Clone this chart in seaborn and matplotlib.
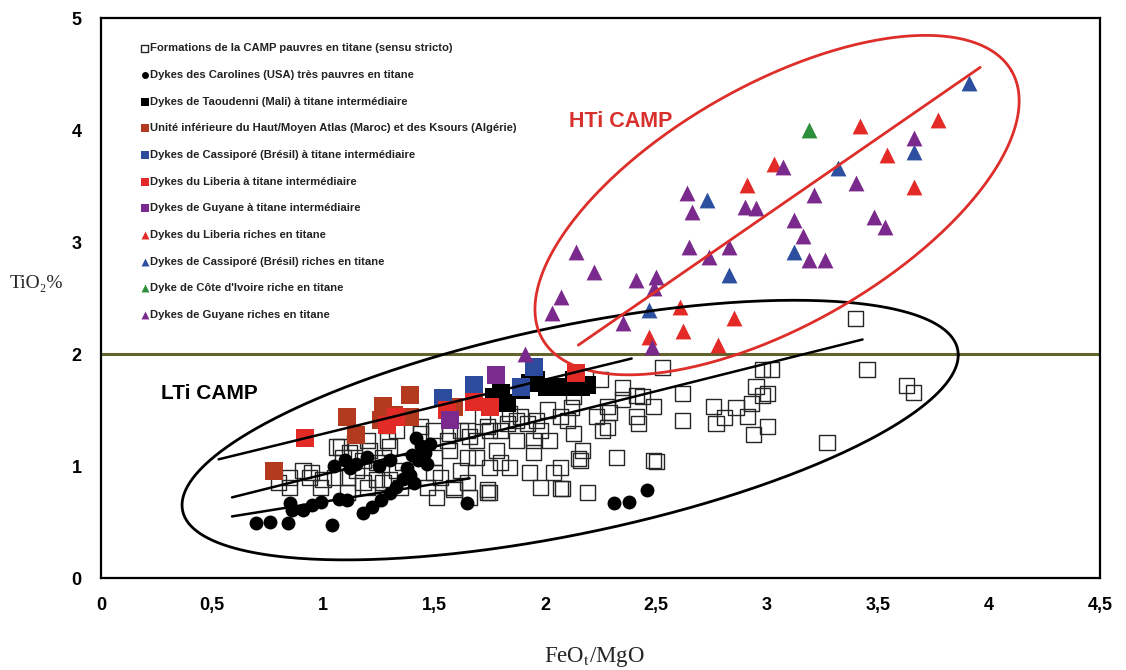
import numpy as np
import pandas as pd
import matplotlib
matplotlib.use("Agg")
import matplotlib.pyplot as plt
import seaborn as sns

# ---- data (FeOt/MgO, TiO2 %) ----
# Formations de la CAMP pauvres en titane (hollow squares)
camp_x = [0.80, 0.85, 0.85, 0.91, 0.94, 0.95, 0.99, 1.00, 1.05, 1.08, 1.09, 1.12, 1.15, 1.18, 1.21,
          1.24, 1.27, 1.30, 1.33, 1.36, 1.30, 1.24, 1.18, 1.11, 1.11, 1.20, 1.27, 1.35, 1.47, 1.53,
          1.59, 1.66, 1.74, 1.51, 1.06, 1.14, 1.20, 1.29, 1.33, 1.44, 1.50, 1.56, 1.62, 1.66, 1.75,
          1.83, 1.89,
          2.25, 2.13, 2.23, 2.26, 2.17, 2.16, 2.07, 2.04, 2.08, 2.19, 1.98, 1.93, 1.95, 1.84, 1.78,
          1.75, 1.74, 1.65, 1.59, 1.50, 1.65, 1.69, 1.80, 1.87, 1.96, 2.01, 2.07, 2.10, 2.13, 2.02,
          1.95, 1.87, 1.74, 1.65, 1.57, 1.44, 1.57, 1.50, 1.69, 1.62, 1.72, 1.84, 1.92, 1.98, 2.28,
          2.53, 2.98, 3.02, 3.45, 3.63, 3.66, 2.95, 2.98, 3.00, 2.62, 2.49, 2.41, 2.35, 2.44, 2.62,
          2.76, 2.77, 2.81, 2.86, 2.91, 2.93, 3.00, 2.94, 3.27, 2.32, 2.49, 2.50, 2.42, 2.29, 2.28,
          2.15, 1.80, 2.12, 2.41, 2.35, 3.40, 2.07, 1.75]
camp_y = [0.85, 0.81, 0.90, 0.96, 0.90, 0.94, 0.81, 0.88, 0.90, 1.17, 1.08, 1.12, 0.96, 1.05, 1.14,
          1.03, 1.08, 1.17, 0.96, 1.03, 0.88, 0.88, 0.85, 0.90, 0.76, 0.81, 0.85, 0.81, 0.81, 0.90,
          0.79, 0.72, 0.76, 0.72, 1.17, 1.21, 1.23, 1.23, 1.32, 1.35, 1.32, 1.23, 1.32, 1.26, 1.32,
          1.38, 1.44,
          1.77, 1.62, 1.44, 1.32, 1.14, 1.05, 0.99, 0.94, 0.80, 0.76, 0.81, 0.94, 1.12, 0.99, 1.14,
          0.99, 0.79, 0.85, 0.81, 0.94, 1.08, 1.23, 1.32, 1.41, 1.41, 1.50, 1.44, 1.41, 1.29, 1.23,
          1.23, 1.23, 1.35, 1.32, 1.29, 1.29, 1.14, 1.08, 1.08, 0.96, 1.44, 1.47, 1.38, 1.32, 1.53,
          1.88, 1.86, 1.86, 1.86, 1.72, 1.66, 1.71, 1.63, 1.65, 1.65, 1.53, 1.63, 1.70, 1.62, 1.41,
          1.53, 1.38, 1.43, 1.52, 1.44, 1.56, 1.35, 1.28, 1.21, 1.08, 1.05, 1.04, 1.38, 1.48, 1.34,
          1.07, 1.03, 1.52, 1.44, 1.59, 2.32, 0.80, 0.76]

# Dykes des Carolines (USA)
carol_x = [0.70, 0.76, 0.84, 0.86, 0.85, 0.91, 0.95, 0.99, 1.04, 1.07, 1.11, 1.18, 1.22, 1.26, 1.30,
           1.33, 1.36, 1.65, 2.31, 2.38, 2.46, 1.05, 1.10, 1.12, 1.15, 1.20, 1.25, 1.30, 1.38, 1.40,
           1.42, 1.43, 1.44, 1.46, 1.47, 1.48, 1.39, 1.41]
carol_y = [0.49, 0.50, 0.49, 0.61, 0.67, 0.61, 0.65, 0.68, 0.47, 0.71, 0.70, 0.58, 0.63, 0.70, 0.76,
           0.81, 0.88, 0.67, 0.67, 0.68, 0.79, 1.00, 1.05, 0.98, 1.02, 1.08, 1.00, 1.05, 0.98, 1.10,
           1.25, 1.05, 1.18, 1.12, 1.02, 1.20, 0.92, 0.85]

# Dykes de Taoudenni (Mali)
taou_x = [1.77, 1.80, 1.83, 1.89, 1.93, 1.96, 2.01, 2.05, 2.10, 2.13, 2.16, 2.19]
taou_y = [1.62, 1.65, 1.56, 1.68, 1.74, 1.77, 1.71, 1.71, 1.71, 1.77, 1.71, 1.72]

# Unite inferieure du Haut/Moyen Atlas et des Ksours
atlas_x = [0.78, 1.11, 1.15, 1.27, 1.39, 1.32, 1.39, 1.26, 1.59]
atlas_y = [0.96, 1.44, 1.28, 1.54, 1.63, 1.46, 1.44, 1.41, 1.53]

# Intermediate-Ti squares
cass_sq_x = [1.54, 1.68, 1.89, 1.95]
cass_sq_y = [1.61, 1.72, 1.71, 1.88]
lib_sq_x = [0.92, 1.33, 1.29, 1.56, 1.68, 1.75, 2.14]
lib_sq_y = [1.25, 1.44, 1.37, 1.50, 1.57, 1.53, 1.83]
guy_sq_x = [1.57, 1.78]
guy_sq_y = [1.41, 1.81]

# High-Ti triangles
lib_tr_x = [3.77, 3.42, 3.54, 3.03, 3.66, 2.91, 2.61, 2.62, 2.85, 2.47, 2.78]
lib_tr_y = [4.09, 4.04, 3.78, 3.70, 3.49, 3.51, 2.42, 2.21, 2.32, 2.15, 2.08]
cass_tr_x = [3.91, 3.66, 3.32, 2.73, 3.12, 2.83, 2.47]
cass_tr_y = [4.42, 3.80, 3.66, 3.38, 2.91, 2.71, 2.39]
civ_tr_x = [3.19]
civ_tr_y = [4.00]
guy_tr_x = [3.66, 3.07, 3.40, 3.21, 2.64, 2.66, 2.90, 2.95, 3.12, 3.48, 3.53, 3.16, 2.65, 2.74,
            2.83, 3.19, 3.26, 2.14, 2.22, 2.41, 2.50, 2.49, 2.07, 2.03, 2.35, 2.48, 1.91]
guy_tr_y = [3.93, 3.67, 3.53, 3.42, 3.44, 3.27, 3.31, 3.30, 3.20, 3.22, 3.13, 3.05, 2.96, 2.87,
            2.96, 2.84, 2.84, 2.91, 2.73, 2.66, 2.69, 2.59, 2.51, 2.37, 2.28, 2.06, 2.00]

x_ticks = [0, 0.5, 1, 1.5, 2, 2.5, 3, 3.5, 4, 4.5]
x_tick_labels = ["0", "0,5", "1", "1,5", "2", "2,5", "3", "3,5", "4", "4,5"]
y_ticks = [0, 1, 2, 3, 4, 5]

# group outlines (centre, two conjugate half-axes, data units)
lti_center, lti_u, lti_v = (2.113, 1.321), (1.748, 0.670), (0.0, -0.946)
hti_center, hti_u, hti_v = (3.045, 3.330), (1.057, 1.196), (-0.268, 0.931)
lti_trends = [((0.53, 1.06), (2.39, 1.96)), ((0.59, 0.72), (3.43, 2.13)), ((0.59, 0.55), (1.66, 0.89))]
hti_trend = ((2.15, 2.08), (3.96, 4.56))
ti_threshold = 2.0

groups = [
    ("Formations de la CAMP pauvres en titane (sensu stricto)", camp_x, camp_y, "s", "none", "#262626", 118, 1.0),
    ("Dykes des Carolines (USA) très pauvres en titane", carol_x, carol_y, "o", "black", "black", 100, 0),
    ("Dykes de Taoudenni (Mali) à titane intermédiaire", taou_x, taou_y, "s", "black", "black", 150, 0),
    ("Unité inférieure du Haut/Moyen Atlas (Maroc) et des Ksours (Algérie)", atlas_x, atlas_y, "s", "#b3391f", "#b3391f", 150, 0),
    ("Dykes de Cassiporé (Brésil) à titane intermédiaire", cass_sq_x, cass_sq_y, "s", "#2c4b9c", "#2c4b9c", 150, 0),
    ("Dykes du Liberia à titane intermédiaire", lib_sq_x, lib_sq_y, "s", "#e22b26", "#e22b26", 150, 0),
    ("Dykes de Guyane à titane intermédiaire", guy_sq_x, guy_sq_y, "s", "#7b2a8e", "#7b2a8e", 150, 0),
    ("Dykes du Liberia riches en titane", lib_tr_x, lib_tr_y, "^", "#e42a26", "#e42a26", 130, 0),
    ("Dykes de Cassiporé (Brésil) riches en titane", cass_tr_x, cass_tr_y, "^", "#2d4f9f", "#2d4f9f", 130, 0),
    ("Dyke de Côte d'Ivoire riche en titane", civ_tr_x, civ_tr_y, "^", "#2e8f3b", "#2e8f3b", 130, 0),
    ("Dykes de Guyane riches en titane", guy_tr_x, guy_tr_y, "^", "#7a2a8c", "#7a2a8c", 130, 0),
]

sns.set_theme(style="white")
plt.rcParams["font.family"] = ["Liberation Sans", "DejaVu Sans"]
plt.rcParams["mathtext.fontset"] = "stix"

fig = plt.figure(figsize=(11.26, 6.70), dpi=100)
ax = fig.add_axes([0.0897, 0.1373, 0.8873, 0.8357])

for label, xs, ys, marker, face, edge, size, lw in groups:
    df = pd.DataFrame({"x": xs, "y": ys})
    sns.scatterplot(data=df, x="x", y="y", marker=marker, color=edge, facecolor=face,
                    edgecolor=edge, s=size, linewidth=lw, label=label, ax=ax, zorder=2)

# outlines and trend lines
t = np.linspace(0, 2 * np.pi, 400)
for (c, u, v, col) in [(lti_center, lti_u, lti_v, "black"), (hti_center, hti_u, hti_v, "#dd2e2a")]:
    ex = c[0] + u[0] * np.cos(t) + v[0] * np.sin(t)
    ey = c[1] + u[1] * np.cos(t) + v[1] * np.sin(t)
    ax.plot(ex, ey, color=col, lw=2.0, zorder=3)
for (p0, p1) in lti_trends:
    ax.plot([p0[0], p1[0]], [p0[1], p1[1]], color="black", lw=1.8, zorder=3)
ax.plot([hti_trend[0][0], hti_trend[1][0]], [hti_trend[0][1], hti_trend[1][1]],
        color="#dd2e2a", lw=2.0, zorder=3)
ax.axhline(ti_threshold, color="#63632f", lw=2.2, zorder=1.5)

ax.text(2.34, 4.08, "HTi CAMP", color="#d8302c", fontsize=15.5, fontweight="bold",
        ha="center", va="center")
ax.text(0.49, 1.65, "LTi CAMP", color="black", fontsize=15, fontweight="bold",
        ha="center", va="center")

ax.set_xlim(0, 4.5)
ax.set_ylim(0, 5)
ax.set_xticks(x_ticks)
ax.set_xticklabels(x_tick_labels)
ax.set_yticks(y_ticks)
ax.tick_params(axis="both", direction="in", length=7, width=1.3, colors="black",
               labelsize=13, pad=14)
for lab in ax.get_xticklabels() + ax.get_yticklabels():
    lab.set_fontweight("bold")
for sp in ax.spines.values():
    sp.set_color("black")
    sp.set_linewidth(1.6)

ax.set_xlabel(r"FeO$_\mathrm{t}$/MgO", fontsize=16.5, family=["Liberation Serif", "DejaVu Serif"])
ax.xaxis.set_label_coords(0.494, -0.119)
ax.set_ylabel("TiO₂%", fontsize=14, family=["Liberation Serif", "DejaVu Serif"],
              rotation=0, labelpad=0)
ax.yaxis.set_label_coords(-0.065, 0.51)

leg = ax.legend(loc="upper left", bbox_to_anchor=(0.033, 0.965), frameon=False,
                markerscale=0.5, handletextpad=0.05, handlelength=0.9, labelspacing=1.48,
                borderpad=0, prop={"size": 8.1, "weight": "bold"})
for txt in leg.get_texts():
    txt.set_color("#222222")

fig.savefig("out.png", dpi=100)
